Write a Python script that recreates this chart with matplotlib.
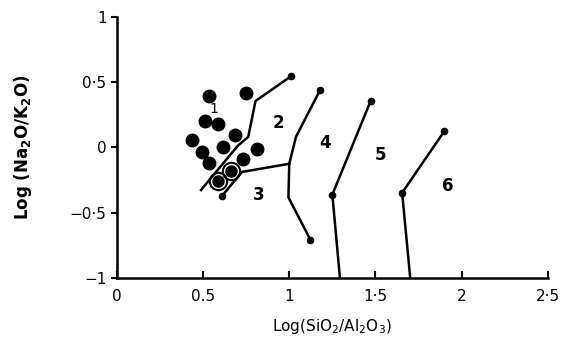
import matplotlib.pyplot as plt

plt.rcParams['mathtext.default'] = 'regular'

# sample points (filled dots)
dot_x = [0.536, 0.75, 0.512, 0.589, 0.685, 0.433, 0.613, 0.81, 0.494, 0.536, 0.732]
dot_y = [0.397, 0.418, 0.199, 0.178, 0.096, 0.055, 0.0, -0.014, -0.035, -0.118, -0.090]
# ringed dots
ring_x = [0.661, 0.589]
ring_y = [-0.181, -0.257]

# boundary curves
c2_x = [1.011, 0.804, 0.762, 0.702, 0.488]
c2_y = [0.546, 0.356, 0.082, 0.014, -0.326]
c3_x = [1.0, 0.726, 0.607]
c3_y = [-0.125, -0.1875, -0.375]
c4_x = [1.178, 1.039, 1.0, 0.995, 1.122]
c4_y = [0.438, 0.082, -0.125, -0.382, -0.706]
c5_x = [1.472, 1.25, 1.294]
c5_y = [0.356, -0.361, -1.0]
c6_x = [1.899, 1.655, 1.702]
c6_y = [0.123, -0.347, -1.0]

labels = ['1', '2', '3', '4', '5', '6']
lab_x = [0.565, 0.94, 0.821, 1.206, 1.53, 1.917]
lab_y = [0.295, 0.185, -0.368, 0.034, -0.056, -0.292]

xticks = [0, 0.5, 1, 1.5, 2, 2.5]
xticklabels = ['0', '0.5', '1', '1·5', '2', '2·5']
yticks = [-1, -0.5, 0, 0.5, 1]
yticklabels = ['−1', '−0·5', '0', '0·5', '1']

fig = plt.figure(figsize=(5.79, 3.39), dpi=100)
ax = fig.add_axes([0.202, 0.18, 0.744, 0.77])

lw = 1.8
ax.plot(c2_x, c2_y, color='black', lw=lw)
ax.plot(c3_x, c3_y, color='black', lw=lw)
ax.plot(c4_x, c4_y, color='black', lw=lw)
ax.plot(c5_x, c5_y, color='black', lw=lw)
ax.plot(c6_x, c6_y, color='black', lw=lw)

# small end dots on curves
ends_x = [c2_x[0], c3_x[-1], c4_x[0], c4_x[-1], c5_x[0], c5_x[1], c6_x[0], c6_x[1]]
ends_y = [c2_y[0], c3_y[-1], c4_y[0], c4_y[-1], c5_y[0], c5_y[1], c6_y[0], c6_y[1]]
ax.plot(ends_x, ends_y, 'o', color='black', ms=4.5, ls='none')

ax.plot(dot_x, dot_y, 'o', color='black', ms=9, ls='none')
ax.plot(ring_x, ring_y, 'o', mfc='none', mec='black', mew=1.5, ms=12.5, ls='none')
ax.plot(ring_x, ring_y, 'o', color='black', ms=8, ls='none')

for t, x, y in zip(labels, lab_x, lab_y):
    if t == '1':
        ax.text(x, y, t, fontsize=10, ha='center', va='center')
    else:
        ax.text(x, y, t, fontsize=12, fontweight='bold', ha='center', va='center')

ax.set_xlim(0, 2.5)
ax.set_ylim(-1, 1)
ax.set_xticks(xticks)
ax.set_xticklabels(xticklabels, fontsize=11)
ax.set_yticks(yticks)
ax.set_yticklabels(yticklabels, fontsize=11)
ax.tick_params(axis='x', direction='in', length=5, width=1.5, pad=8)
ax.tick_params(axis='y', direction='out', length=4, width=1.5)
ax.spines['top'].set_visible(False)
ax.spines['right'].set_visible(False)
ax.spines['left'].set_linewidth(1.8)
ax.spines['bottom'].set_linewidth(1.8)

ax.set_xlabel('Log(SiO$_2$/Al$_2$O$_3$)', fontsize=11, labelpad=9)
ax.set_ylabel('Log (Na$_2$O/K$_2$O)', fontsize=12, fontweight='bold', labelpad=26)

plt.savefig('out.png', dpi=100)
